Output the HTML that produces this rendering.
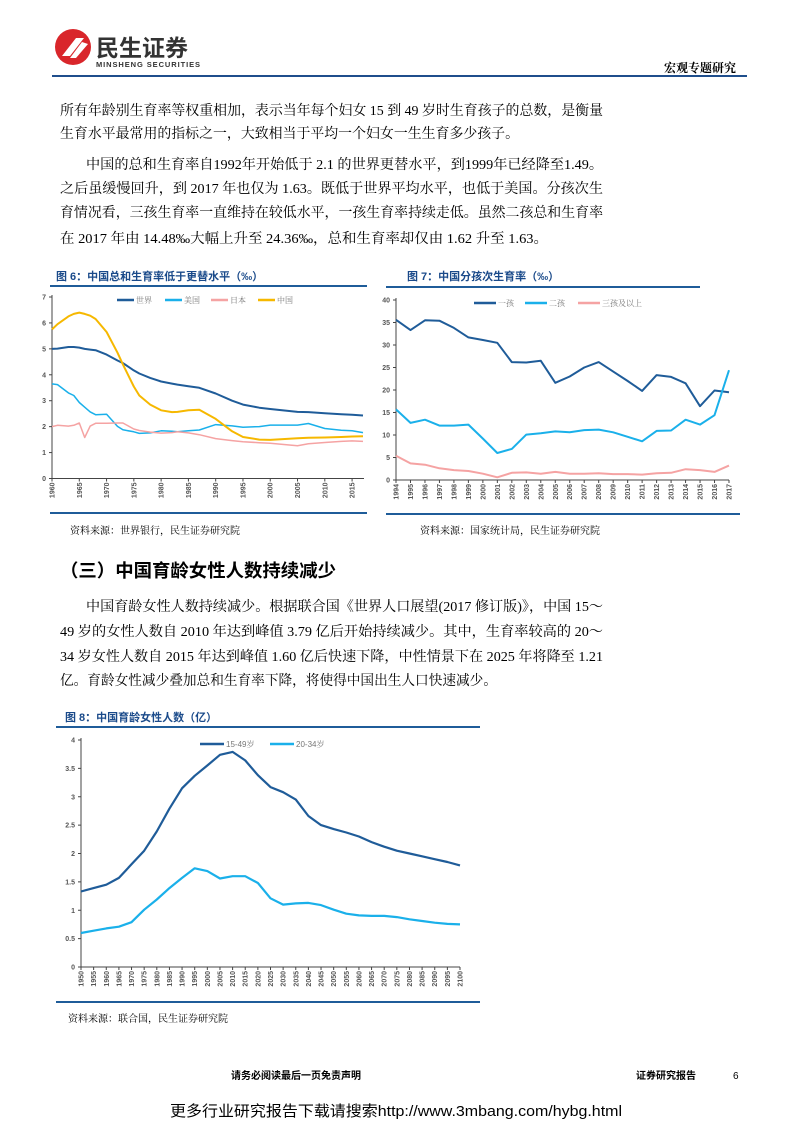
<!DOCTYPE html>
<html><head><meta charset="utf-8"><style>
html,body{margin:0;padding:0;background:#fff;}
svg{display:block;}
.p{font-family:"Liberation Serif","Noto Serif CJK SC",serif;font-size:14px;fill:#000;}
.t{font-family:"Liberation Sans","Noto Sans CJK SC",sans-serif;font-size:11px;font-weight:bold;fill:#1a4a8a;}
.s{font-family:"Liberation Serif","Noto Serif CJK SC",serif;font-size:10px;fill:#000;}
.tk{font-family:"Liberation Sans",sans-serif;font-size:7px;font-weight:bold;fill:#555;}
.lg{font-family:"Liberation Sans","Noto Serif CJK SC",sans-serif;font-size:8px;fill:#777;}
</style></head><body>
<svg id="pg" width="793" height="1122" viewBox="0 0 793 1122" xmlns="http://www.w3.org/2000/svg">
<g>
<circle cx="73" cy="47" r="18" fill="#d9262b"/>
<path d="M62 56 L76 38 L84 38 L70 56 Z M70 58 L82 42 L88 44 L76 58Z" fill="#fff"/>
<text x="96" y="56" font-family="Liberation Sans,Noto Sans CJK SC,sans-serif" font-size="23" font-weight="bold" fill="#333">民生证券</text>
<text x="96" y="67" font-family="Liberation Sans,sans-serif" font-size="7.5" font-weight="bold" fill="#333" textLength="104">MINSHENG SECURITIES</text>
<text x="736" y="72" text-anchor="end" font-family="Noto Serif CJK SC,serif" font-size="12" font-weight="bold">宏观专题研究</text>
<rect x="52" y="75" width="695" height="2" fill="#1f4e8c"/>
</g>
<g>
<text class="p" x="60" y="115" textLength="543" lengthAdjust="spacingAndGlyphs">所有年龄别生育率等权重相加，表示当年每个妇女 15 到 49 岁时生育孩子的总数，是衡量</text>
<text class="p" x="60" y="138" textLength="459" lengthAdjust="spacingAndGlyphs">生育水平最常用的指标之一，大致相当于平均一个妇女一生生育多少孩子。</text>
<text class="p" x="86" y="169" textLength="517" lengthAdjust="spacingAndGlyphs">中国的总和生育率自1992年开始低于 2.1 的世界更替水平，到1999年已经降至1.49。</text>
<text class="p" x="60" y="193" textLength="543" lengthAdjust="spacingAndGlyphs">之后虽缓慢回升，到 2017 年也仅为 1.63。既低于世界平均水平，也低于美国。分孩次生</text>
<text class="p" x="60" y="217" textLength="543" lengthAdjust="spacingAndGlyphs">育情况看，三孩生育率一直维持在较低水平，一孩生育率持续走低。虽然二孩总和生育率</text>
<text class="p" x="60" y="243" textLength="488" lengthAdjust="spacingAndGlyphs">在 2017 年由 14.48‰大幅上升至 24.36‰，总和生育率却仅由 1.62 升至 1.63。</text>
<text x="60" y="577" font-family="Liberation Sans,Noto Sans CJK SC,sans-serif" font-size="18" font-weight="bold" textLength="276" lengthAdjust="spacingAndGlyphs">（三）中国育龄女性人数持续减少</text>
<text class="p" x="86" y="611" textLength="517" lengthAdjust="spacingAndGlyphs">中国育龄女性人数持续减少。根据联合国《世界人口展望(2017 修订版)》，中国 15～</text>
<text class="p" x="60" y="636" textLength="543" lengthAdjust="spacingAndGlyphs">49 岁的女性人数自 2010 年达到峰值 3.79 亿后开始持续减少。其中，生育率较高的 20～</text>
<text class="p" x="60" y="661" textLength="543" lengthAdjust="spacingAndGlyphs">34 岁女性人数自 2015 年达到峰值 1.60 亿后快速下降，中性情景下在 2025 年将降至 1.21</text>
<text class="p" x="60" y="685" textLength="437" lengthAdjust="spacingAndGlyphs">亿。育龄女性减少叠加总和生育率下降，将使得中国出生人口快速减少。</text>
</g>
<g>
<text class="t" x="56" y="280">图 6：中国总和生育率低于更替水平（‰）</text>
<rect x="50" y="285" width="317" height="2" fill="#1f5c99"/>
<rect x="50" y="512" width="317" height="2" fill="#1f5c99"/>
<text class="s" x="70" y="534">资料来源：世界银行，民生证券研究院</text>
</g>
<g>
<text class="t" x="407" y="280">图 7：中国分孩次生育率（‰）</text>
<rect x="386" y="286" width="314" height="2" fill="#1f5c99"/>
<rect x="386" y="513" width="354" height="2" fill="#1f5c99"/>
<text class="s" x="420" y="534">资料来源：国家统计局，民生证券研究院</text>
</g>
<g>
<text class="t" x="65" y="721">图 8：中国育龄女性人数（亿）</text>
<rect x="56" y="726" width="424" height="2" fill="#1f5c99"/>
<rect x="56" y="1001" width="424" height="2" fill="#1f5c99"/>
<text class="s" x="68" y="1022">资料来源：联合国，民生证券研究院</text>
</g>
<g>
<text x="296" y="1079" text-anchor="middle" font-family="Liberation Sans,Noto Sans CJK SC,sans-serif" font-size="10" font-weight="bold">请务必阅读最后一页免责声明</text>
<text x="636" y="1079" font-family="Liberation Sans,Noto Sans CJK SC,sans-serif" font-size="10" font-weight="bold">证券研究报告</text>
<text x="733" y="1079" font-family="Liberation Sans,sans-serif" font-size="10">6</text>
<text x="170" y="1116" font-family="Liberation Sans,Noto Sans CJK SC,sans-serif" font-size="15" textLength="452" lengthAdjust="spacingAndGlyphs">更多行业研究报告下载请搜索http://www.3mbang.com/hybg.html</text>
</g>
<g id="c6"></g>
<g id="c7"></g>
<g id="c8"></g>
</svg>
<script>
// Figure 6
const c6Years=[1960,1961,1963,1964,1965,1966,1967,1968,1970,1972,1973,1975,1976,1978,1980,1982,1983,1985,1987,1990,1993,1995,1998,2000,2005,2007,2010,2013,2015,2017];
const c6World=[5.0,5.01,5.07,5.07,5.05,5.0,4.97,4.95,4.78,4.55,4.45,4.17,4.05,3.88,3.74,3.66,3.62,3.56,3.5,3.28,3.0,2.85,2.73,2.68,2.57,2.56,2.52,2.48,2.46,2.43];
const c6US=[3.65,3.62,3.3,3.2,2.93,2.75,2.57,2.46,2.48,2.01,1.88,1.8,1.74,1.76,1.84,1.82,1.8,1.84,1.87,2.08,2.03,1.98,2.0,2.06,2.06,2.12,1.93,1.86,1.84,1.77];
const c6Japan=[2.0,2.05,2.02,2.05,2.14,1.58,2.02,2.13,2.13,2.14,2.14,1.91,1.85,1.79,1.75,1.77,1.8,1.76,1.69,1.54,1.46,1.42,1.38,1.36,1.26,1.34,1.39,1.43,1.45,1.43];
const c6China=[5.75,5.95,6.25,6.35,6.4,6.35,6.28,6.15,5.65,4.85,4.4,3.55,3.2,2.85,2.63,2.56,2.57,2.63,2.65,2.3,1.82,1.6,1.5,1.49,1.55,1.57,1.58,1.6,1.62,1.63];
const c6Ticks=[0,1,2,3,4,5,6,7];
const c6XTicks=[1960,1965,1970,1975,1980,1985,1990,1995,2000,2005,2010,2015];
const c6Legend=["世界","美国","日本","中国"];
// Figure 7
const c7Years=[1994,1995,1996,1997,1998,1999,2000,2001,2002,2003,2004,2005,2006,2007,2008,2009,2010,2011,2012,2013,2014,2015,2016,2017];
const c7First=[35.6,33.3,35.5,35.4,33.8,31.7,31.1,30.5,26.2,26.1,26.5,21.6,23.0,25.0,26.2,24.1,22.0,19.8,23.3,22.9,21.5,16.4,19.9,19.5];
const c7Second=[15.7,12.7,13.4,12.1,12.1,12.3,9.2,6.0,6.9,10.1,10.4,10.8,10.6,11.1,11.2,10.6,9.6,8.6,10.9,11.0,13.4,12.3,14.4,24.4];
const c7Third=[5.4,3.7,3.4,2.6,2.2,2.0,1.4,0.6,1.6,1.7,1.4,1.8,1.4,1.4,1.5,1.3,1.3,1.2,1.5,1.6,2.4,2.2,1.8,3.2];
const c7Ticks=[0,5,10,15,20,25,30,35,40];
const c7Legend=["一孩","二孩","三孩及以上"];
// Figure 8
const c8Years=[1950,1955,1960,1965,1970,1975,1980,1985,1990,1995,2000,2005,2010,2015,2020,2025,2030,2035,2040,2045,2050,2055,2060,2065,2070,2075,2080,2085,2090,2095,2100];
const c8A=[1.33,1.39,1.45,1.57,1.81,2.05,2.39,2.79,3.15,3.37,3.55,3.74,3.79,3.64,3.38,3.17,3.08,2.95,2.66,2.50,2.43,2.37,2.30,2.20,2.12,2.05,2.00,1.95,1.90,1.85,1.79];
const c8B=[0.60,0.64,0.68,0.71,0.79,1.01,1.19,1.39,1.57,1.74,1.69,1.56,1.60,1.60,1.48,1.21,1.10,1.12,1.13,1.09,1.01,0.94,0.91,0.90,0.90,0.88,0.84,0.81,0.78,0.76,0.75];
const c8Ticks=[0,0.5,1,1.5,2,2.5,3,3.5,4];
const c8Legend=["15-49岁","20-34岁"];

const NS="http://www.w3.org/2000/svg";
function mk(p,tag,a){const e=document.createElementNS(NS,tag);for(const k in a)e.setAttribute(k,a[k]);p.appendChild(e);return e;}
function lin(d0,d1,r0,r1){return v=>r0+(v-d0)/(d1-d0)*(r1-r0);}
function axes(g,x,y,xl,xr,yt,yb,ticks,fmt,xticks,fs){
  const ax=mk(g,'line',{x1:xl,y1:yt-2,x2:xl,y2:yb,stroke:'#444','stroke-width':1});
  
  const bx=mk(g,'line',{x1:xl,y1:yb,x2:xr,y2:yb,stroke:'#444','stroke-width':1});
  
  ticks.forEach(t=>{const yy=y(t);mk(g,'line',{x1:xl-3,y1:yy,x2:xl,y2:yy,stroke:'#444'});
    const tx=mk(g,'text',{x:xl-6,y:yy+2.5,'text-anchor':'end',class:'tk','font-size':fs});tx.textContent=fmt(t);
    });
  xticks.forEach(t=>{const xx=x(t);mk(g,'line',{x1:xx,y1:yb,x2:xx,y2:yb+3,stroke:'#444'});
    const tx=mk(g,'text',{x:0,y:0,'text-anchor':'end',class:'tk','font-size':fs,transform:`translate(${xx+2.5},${yb+4}) rotate(-90)`});tx.textContent=t;
    });
}
function line(g,xs,ys,x,y,col,w,name){
  const d=xs.map((v,i)=>(i?'L':'M')+x(v).toFixed(1)+' '+y(ys[i]).toFixed(1)).join(' ');
  const p=mk(g,'path',{d:d,fill:'none',stroke:col,'stroke-width':w,'stroke-linejoin':'round'});
  
}
function legend(g,items,cols,xs,yy,fs,len){
  items.forEach((n,i)=>{mk(g,'line',{x1:xs[i],y1:yy,x2:xs[i]+len,y2:yy,stroke:cols[i],'stroke-width':2.5});
    const t=mk(g,'text',{x:xs[i]+len+2,y:yy+3,class:'lg','font-size':fs});t.textContent=n;
    });
}
const DB='#1f5c99',LB='#1ab0ea',PK='#f5a3a3',YL='#f6b800';
(function(){const g=document.getElementById('c6');
 const x=lin(1960,2017,52,363),y=lin(0,7,478.5,297);
 axes(g,x,y,52,364,297,478.5,c6Ticks,v=>v,c6XTicks,7);
 line(g,c6Years,c6World,x,y,DB,2,'series-world');
 line(g,c6Years,c6US,x,y,LB,1.5,'series-us');
 line(g,c6Years,c6Japan,x,y,PK,1.5,'series-japan');
 line(g,c6Years,c6China,x,y,YL,2,'series-china');
 legend(g,c6Legend,[DB,LB,PK,YL],[117,165,211,258],300,7,17);
})();
(function(){const g=document.getElementById('c7');
 const x=lin(1994,2017,396,729),y=lin(0,40,480,300);
 axes(g,x,y,396,729,300,480,c7Ticks,v=>v,c7Years,7);
 line(g,c7Years,c7First,x,y,DB,2,'series-first-child');
 line(g,c7Years,c7Second,x,y,LB,2,'series-second-child');
 line(g,c7Years,c7Third,x,y,PK,2,'series-third-child');
 legend(g,c7Legend,[DB,LB,PK],[474,525,578],303,8,22);
})();
(function(){const g=document.getElementById('c8');
 const x=lin(1950,2100,81,460),y=lin(0,4,967,740);
 axes(g,x,y,81,460,740,967,c8Ticks,v=>v,c8Years,8);
 line(g,c8Years,c8A,x,y,DB,2.2,'series-15-49');
 line(g,c8Years,c8B,x,y,LB,2.2,'series-20-34');
 legend(g,c8Legend,[DB,LB],[200,270],744,10,24);
 g.querySelectorAll('text.lg').forEach(t=>t.setAttribute('fill','#888'));
})();
</script>
</body></html>
